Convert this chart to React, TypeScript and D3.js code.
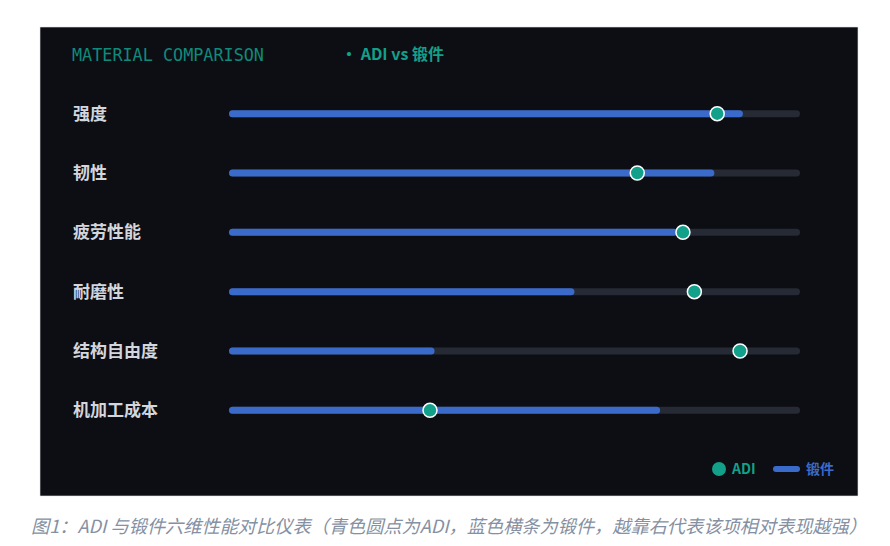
import React, { useEffect, useRef } from "react";
import * as d3 from "d3";

const metrics = ["强度", "韧性", "疲劳性能", "耐磨性", "结构自由度", "机加工成本"];
const adiValues = [85.5, 71.5, 79.5, 81.5, 89.5, 35.2];
const forgingValues = [90, 85, 78.5, 60.5, 36, 75.5];

const W = 890;
const H = 546;
const CJK = "'Noto Sans CJK SC', 'Noto Sans', sans-serif";

const App = () => {
    const svgRef = useRef(null);

    useEffect(() => {
        const svg = d3.select(svgRef.current);
        svg.selectAll("*").remove();

        // panel
        svg.append("rect")
            .attr("x", 40)
            .attr("y", 27)
            .attr("width", 818)
            .attr("height", 469)
            .attr("fill", "#0d0e13")
            .attr("stroke", "#e3e5e8")
            .attr("stroke-width", 0.6);

        svg.append("text")
            .attr("x", 72)
            .attr("y", 61)
            .attr("font-family", "'DejaVu Sans Mono', monospace")
            .attr("font-size", 16.8)
            .attr("fill", "#0f8a7b")
            .text("MATERIAL COMPARISON");

        svg.append("text")
            .attr("x", 341)
            .attr("y", 60)
            .attr("font-family", CJK)
            .attr("font-size", 16)
            .attr("font-weight", 700)
            .attr("fill", "#13a08a")
            .text("· ADI vs 锻件");

        const x = d3.scaleLinear().domain([0, 100]).range([229, 800]);
        const y = d3.scaleBand().domain(metrics).range([84, 440]).paddingInner(0);

        const rows = svg
            .selectAll(".row")
            .data(metrics)
            .enter()
            .append("g")
            .attr("class", "row")
            .attr("transform", (d) => `translate(0, ${y(d)! + y.bandwidth() / 2})`);

        rows.append("text")
            .attr("x", 73)
            .attr("y", 0)
            .attr("dy", "0.35em")
            .attr("font-family", CJK)
            .attr("font-size", 17)
            .attr("font-weight", 700)
            .attr("fill", "#d3d6dc")
            .text((d) => d);

        const trackH = 7;
        rows.append("rect")
            .attr("x", x(0))
            .attr("y", -trackH / 2)
            .attr("width", x(100) - x(0))
            .attr("height", trackH)
            .attr("rx", trackH / 2)
            .attr("fill", "#252a35");

        rows.append("rect")
            .attr("x", x(0))
            .attr("y", -trackH / 2)
            .attr("width", (_d, i) => x(forgingValues[i]) - x(0))
            .attr("height", trackH)
            .attr("rx", trackH / 2)
            .attr("fill", "#3a6bcb");

        rows.append("circle")
            .attr("cx", (_d, i) => x(adiValues[i]))
            .attr("cy", 0)
            .attr("r", 7)
            .attr("fill", "#13a08a")
            .attr("stroke", "#ffffff")
            .attr("stroke-width", 1.5);

        // legend
        const lg = svg.append("g").attr("transform", "translate(0, 469)");
        lg.append("circle").attr("cx", 719).attr("cy", 0).attr("r", 7).attr("fill", "#13a08a");
        lg.append("text")
            .attr("x", 732)
            .attr("dy", "0.35em")
            .attr("font-family", CJK)
            .attr("font-size", 14)
            .attr("font-weight", 700)
            .attr("fill", "#13a08a")
            .text("ADI");
        lg.append("line")
            .attr("x1", 776)
            .attr("x2", 797)
            .attr("y1", 0)
            .attr("y2", 0)
            .attr("stroke", "#3a6bcb")
            .attr("stroke-width", 6)
            .attr("stroke-linecap", "round");
        lg.append("text")
            .attr("x", 806)
            .attr("dy", "0.35em")
            .attr("font-family", CJK)
            .attr("font-size", 14)
            .attr("font-weight", 700)
            .attr("fill", "#3a6bcb")
            .text("锻件");

        svg.append("text")
            .attr("x", W / 2 + 4)
            .attr("y", 533)
            .attr("text-anchor", "middle")
            .attr("font-family", CJK)
            .attr("font-size", 18.2)
            .attr("font-style", "italic")
            .attr("fill", "#8590a2")
            .text("图1：ADI 与锻件六维性能对比仪表（青色圆点为ADI，蓝色横条为锻件，越靠右代表该项相对表现越强）");
    }, []);

    return (
        <svg
            ref={svgRef}
            width={W}
            height={H}
            style={{ position: "absolute", left: 0, top: 0, background: "#ffffff" }}
        ></svg>
    );
};

export default App;
